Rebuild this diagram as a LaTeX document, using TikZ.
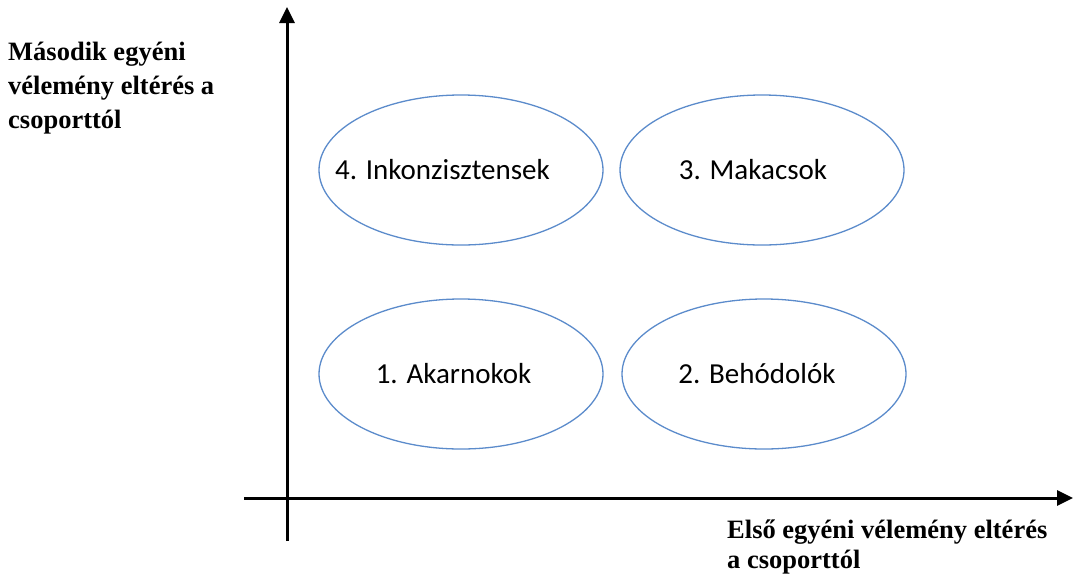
\documentclass[tikz,border=0pt]{standalone}
\usepackage{fontspec}
\setmainfont{Liberation Serif}
\newfontfamily\calib{Carlito}
\usetikzlibrary{arrows.meta,positioning,shapes.geometric}
\definecolor{ovalblue}{HTML}{5B8BCB}

\begin{document}
\begin{tikzpicture}[
  x=1pt, y=-1pt,
  oval/.style={draw=ovalblue, line width=1.3pt, ellipse, minimum width=284pt, minimum height=150pt, inner sep=0pt, font=\calib\fontsize{29}{34}\selectfont},
  axis/.style={-{Triangle[length=16pt,width=15pt]}, line width=3pt},
  axlabel/.style={align=left, inner sep=0pt, font=\bfseries\fontsize{26.5}{34}\selectfont}
]
\useasboundingbox (0,0) rectangle (1076,574);

% axes
\coordinate (o) at (287,498);
\coordinate (ybot) at (287,541);
\coordinate (ytop) at (287,7);
\coordinate (xleft) at (244,498);
\coordinate (xright) at (1073,498);
\draw[axis] (ybot) -- (ytop);
\draw[axis] (xleft) -- (xright);

% groups
\node[oval] (inkon) at (461,170) {\hspace*{-37pt}4. Inkonzisztensek};
\node[oval] (makacs) at (762,170) {\hspace*{-18pt}3. Makacsok};
\node[oval] (akarn) at (461,374) {\hspace*{-15pt}1. Akarnokok};
\node[oval] (behod) at (764,374) {\hspace*{-14pt}2. Behódolók};

% axis labels
\node[axlabel, anchor=north west] (ylab) at (8,42) {Második egyéni\\vélemény eltérés a\\csoporttól};
\node[axlabel, anchor=north west, font=\bfseries\fontsize{26.5}{30}\selectfont] (xlab) at (727,520) {Első egyéni vélemény eltérés\\a csoporttól};

\end{tikzpicture}
\end{document}
